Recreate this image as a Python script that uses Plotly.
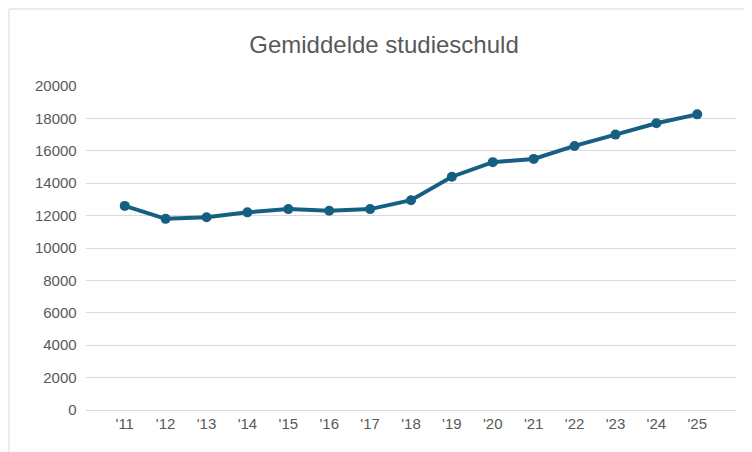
import plotly.graph_objects as go

years = ["'11","'12","'13","'14","'15","'16","'17","'18","'19","'20","'21","'22","'23","'24","'25"]
debt = [12600,11800,11900,12200,12400,12300,12400,12950,14400,15300,15500,16300,17000,17700,18250]

fig = go.Figure(go.Scatter(x=years, y=debt, mode="lines+markers",
    line=dict(color="#156082", width=4), marker=dict(size=10, color="#156082")))
fig.update_layout(
    width=752, height=452, paper_bgcolor="white", plot_bgcolor="white",
    margin=dict(l=78, r=24, t=78, b=50, autoexpand=False),
    title=dict(text="Gemiddelde studieschuld", x=0.5, y=1-37/452, xanchor="center", yanchor="middle",
               font=dict(family="Liberation Sans, Arial", size=24, color="#595959")),
    font=dict(family="Liberation Sans, Arial", size=15, color="#595959"),
    showlegend=False,
    shapes=[dict(type="rect", xref="paper", yref="paper",
                 x0=-77/650, y0=-49/324, x1=1+23/650, y1=1+77/324,
                 line=dict(color="#d9d9d9", width=1))],
)
fig.update_xaxes(showgrid=False, showline=True, linecolor="#d9d9d9", ticks="", tickfont=dict(size=15))
fig.update_yaxes(range=[0,20000], dtick=2000, tickformat="d", gridcolor="#d9d9d9", zeroline=False,
                 showline=False, tickfont=dict(size=15), ticksuffix="  ")
fig.write_html("out.html")
